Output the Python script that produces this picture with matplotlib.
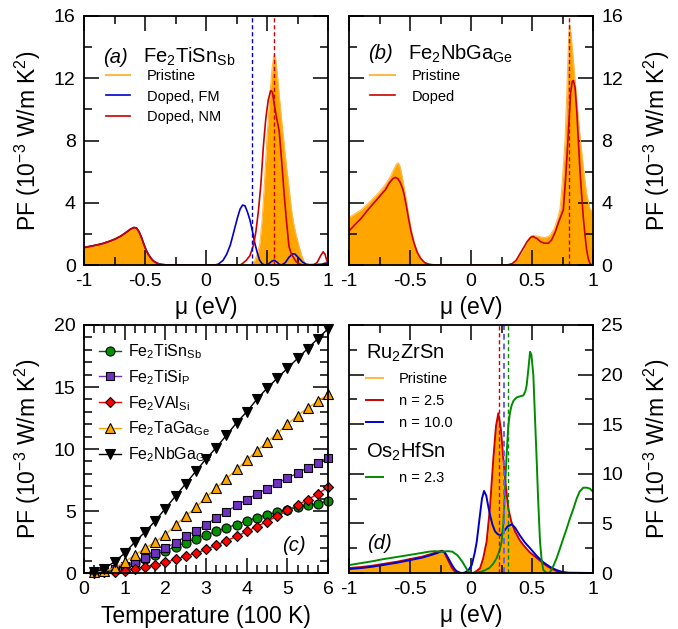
import matplotlib
matplotlib.use("Agg")
import matplotlib.pyplot as plt
from matplotlib.lines import Line2D
from matplotlib.ticker import MultipleLocator, FuncFormatter

plt.rcParams.update({
    "font.family": ["Liberation Sans", "DejaVu Sans"],
    "mathtext.fontset": "custom",
    "mathtext.rm": "Liberation Sans",
    "mathtext.it": "Liberation Sans:italic",
    "mathtext.bf": "Liberation Sans:bold",
    "axes.linewidth": 1.3,
})

ORANGE = "#FFA500"
ORANGE_LINE = "#FFB84D"
RED = "#CC0000"
BLUE = "#0000CC"
GREEN = "#008C00"

# ---- (a) Fe2TiSn_Sb : PF vs chemical potential -----------------------------
a_lobe_mu = [-1.0, -0.95, -0.9, -0.85, -0.8, -0.75, -0.7, -0.65, -0.62, -0.59, -0.57,
             -0.55, -0.53, -0.51, -0.49, -0.47, -0.45, -0.43, -0.40, -0.37, -0.33, -0.30]
a_lobe_pf = [1.12, 1.2, 1.28, 1.37, 1.5, 1.65, 1.85, 2.12, 2.3, 2.41, 2.38,
             2.15, 1.8, 1.35, 0.95, 0.65, 0.42, 0.25, 0.11, 0.04, 0.01, 0.0]

a_pristine_mu = a_lobe_mu + [0.35, 0.38, 0.40, 0.42, 0.44, 0.46, 0.48, 0.50, 0.52, 0.54, 0.555,
                             0.57, 0.585, 0.60, 0.62, 0.64, 0.66, 0.68, 0.70, 0.72, 0.74,
                             0.76, 0.78, 0.80, 0.82, 0.85, 0.92, 0.95, 0.98, 1.0]
a_pristine_pf = a_lobe_pf + [0.0, 0.05, 0.3, 0.7, 1.3, 2.9, 5.4, 8.2, 10.5, 12.5, 13.45,
                             13.3, 12.2, 10.9, 9.3, 7.8, 6.3, 5.0, 3.6, 2.6, 1.9,
                             1.3, 0.7, 0.3, 0.05, 0.0, 0.0, 0.05, 0.2, 0.2]

a_nm_mu = a_lobe_mu + [0.28, 0.30, 0.33, 0.36, 0.39, 0.41, 0.43, 0.45, 0.47, 0.49, 0.51, 0.53,
                       0.545, 0.56, 0.58, 0.60, 0.62, 0.64, 0.66, 0.68, 0.70, 0.74, 0.77,
                       0.80, 0.88, 0.91, 0.94, 0.96, 0.975, 0.99, 1.0]
a_nm_pf = a_lobe_pf + [0.0, 0.1, 0.3, 0.6, 1.3, 2.2, 3.5, 5.2, 7.6, 9.4, 10.6, 11.2,
                       11.1, 10.3, 9.4, 8.6, 6.7, 4.6, 2.8, 1.2, 0.7, 0.2, 0.05,
                       0.0, 0.0, 0.15, 0.6, 0.85, 0.7, 0.3, 0.15]

a_fm_mu = a_lobe_mu + [0.07, 0.10, 0.14, 0.17, 0.20, 0.23, 0.26, 0.28, 0.30, 0.32, 0.34, 0.36,
                       0.38, 0.40, 0.42, 0.44, 0.46, 0.48, 0.51, 0.54, 0.56, 0.58, 0.60,
                       0.62, 0.65, 0.68, 0.71, 0.73, 0.76, 0.79, 0.82, 0.85, 0.90, 0.95, 1.0]
a_fm_pf = a_lobe_pf + [0.0, 0.05, 0.3, 0.7, 1.3, 2.2, 3.1, 3.6, 3.85, 3.8, 3.4, 2.9,
                       2.2, 1.4, 0.8, 0.3, 0.08, 0.0, 0.05, 0.25, 0.3, 0.2, 0.05,
                       0.0, 0.15, 0.5, 0.72, 0.7, 0.45, 0.2, 0.05, 0.02, 0.03, 0.05, 0.15]

a_fermi_fm = 0.375
a_fermi_nm = 0.557

# ---- (b) Fe2NbGa_Ge --------------------------------------------------------
b_pristine_mu = [-1.0, -0.95, -0.9, -0.85, -0.8, -0.75, -0.70, -0.66, -0.63, -0.61, -0.595,
                 -0.58, -0.56, -0.535, -0.515, -0.495, -0.475, -0.454, -0.435, -0.413,
                 -0.39, -0.36, -0.33, -0.30, 0.30, 0.33, 0.36, 0.40, 0.44, 0.47, 0.50,
                 0.55, 0.60, 0.64, 0.68, 0.71, 0.73, 0.75, 0.77, 0.785, 0.80, 0.808,
                 0.82, 0.85, 0.87, 0.893, 0.92, 0.947, 0.975, 1.0]
b_pristine_pf = [3.05, 3.3, 3.55, 3.9, 4.3, 4.7, 5.2, 5.7, 6.2, 6.5, 6.56,
                 6.3, 5.5, 4.4, 3.4, 2.47, 1.75, 1.18, 0.75, 0.43,
                 0.2, 0.06, 0.01, 0.0, 0.0, 0.05, 0.2, 0.6, 1.15, 1.65, 1.9,
                 1.85, 1.75, 1.85, 2.3, 3.0, 3.6, 5.5, 7.9, 11.0, 14.5, 15.5,
                 14.8, 12.15, 10.3, 8.3, 6.3, 4.6, 3.6, 3.4]

b_doped_mu = [-1.0, -0.95, -0.9, -0.85, -0.8, -0.75, -0.70, -0.67, -0.64, -0.62, -0.60,
              -0.58, -0.56, -0.55, -0.53, -0.51, -0.49, -0.467, -0.44, -0.413, -0.38,
              -0.344, -0.30, 0.30, 0.34, 0.37, 0.40, 0.43, 0.46, 0.49, 0.51, 0.54,
              0.57, 0.60, 0.634, 0.66, 0.69, 0.72, 0.757, 0.775, 0.79, 0.805, 0.817,
              0.83, 0.84, 0.853, 0.866, 0.88, 0.893, 0.907, 0.92, 0.935, 0.947,
              0.96, 0.975, 0.99, 1.0]
b_doped_pf = [2.19, 2.6, 3.0, 3.5, 3.95, 4.4, 4.85, 5.27, 5.55, 5.63, 5.55,
              5.3, 4.9, 4.6, 3.8, 2.9, 2.1, 1.4, 0.8, 0.43, 0.15,
              0.05, 0.0, 0.0, 0.1, 0.3, 0.7, 1.1, 1.5, 1.78, 1.83, 1.7,
              1.5, 1.4, 1.4, 1.6, 2.1, 2.8, 3.55, 5.5, 7.4, 9.5, 11.1,
              11.8, 11.85, 11.4, 10.0, 8.0, 6.1, 4.5, 3.1, 1.9, 1.0,
              0.45, 0.1, 0.0, 0.0]

b_fermi = 0.806

# ---- (c) PF vs temperature at the optimal doping ---------------------------
temperature = [0.25, 0.5, 0.75, 1.0, 1.25, 1.5, 1.75, 2.0, 2.25, 2.5, 2.75, 3.0,
               3.25, 3.5, 3.75, 4.0, 4.25, 4.5, 4.75, 5.0, 5.25, 5.5, 5.75, 6.0]
pf_tisn = [0.05, 0.15, 0.3, 0.55, 0.8, 1.1, 1.45, 1.8, 2.1, 2.45, 2.75, 3.05,
           3.35, 3.65, 3.9, 4.2, 4.45, 4.7, 4.9, 5.1, 5.3, 5.45, 5.6, 5.8]
pf_tisi = [0.05, 0.2, 0.35, 0.6, 0.85, 1.2, 1.6, 2.0, 2.45, 2.95, 3.4, 3.9,
           4.45, 4.95, 5.45, 5.9, 6.4, 6.8, 7.25, 7.65, 8.05, 8.5, 8.9, 9.3]
pf_val = [0.0, 0.05, 0.1, 0.2, 0.35, 0.5, 0.65, 0.85, 1.1, 1.35, 1.6, 1.9,
          2.25, 2.6, 2.95, 3.35, 3.75, 4.15, 4.6, 5.05, 5.5, 5.9, 6.4, 6.9]
pf_taga = [0.05, 0.15, 0.4, 0.9, 1.45, 2.0, 2.5, 3.1, 3.85, 4.6, 5.3, 6.1,
           6.85, 7.6, 8.35, 9.1, 9.85, 10.55, 11.25, 12.0, 12.7, 13.3, 13.85, 14.4]
pf_nbga = [0.1, 0.35, 0.9, 1.6, 2.5, 3.3, 4.2, 5.2, 6.2, 7.2, 8.2, 9.2,
           10.1, 11.1, 12.1, 13.0, 14.0, 14.9, 15.7, 16.5, 17.3, 18.1, 18.9, 19.7]
c_labels = [r"Fe$_2$TiSn$_{\mathrm{Sb}}$", r"Fe$_2$TiSi$_{\mathrm{P}}$",
            r"Fe$_2$VAl$_{\mathrm{Si}}$", r"Fe$_2$TaGa$_{\mathrm{Ge}}$",
            r"Fe$_2$NbGa$_{\mathrm{Ge}}$"]

# ---- (d) Ru2ZrSn and Os2HfSn ----------------------------------------------
d_pristine_mu = [-1.0, -0.9, -0.8, -0.7, -0.6, -0.5, -0.4, -0.33, -0.28, -0.24, -0.22,
                 -0.20, -0.18, -0.16, -0.14, -0.12, -0.10, 0.0, 0.04, 0.08, 0.11, 0.14,
                 0.16, 0.18, 0.20, 0.22, 0.235, 0.25, 0.27, 0.29, 0.31, 0.34, 0.38,
                 0.43, 0.48, 0.54, 0.60, 0.65, 0.70, 0.75, 0.80, 1.0]
d_pristine_pf = [0.45, 0.55, 0.7, 0.9, 1.1, 1.35, 1.6, 1.85, 2.05, 2.2, 2.1,
                 1.6, 1.1, 0.6, 0.25, 0.05, 0.0, 0.0, 0.1, 0.6, 1.8, 4.0,
                 6.8, 10.5, 14.0, 15.8, 15.3, 12.5, 9.5, 7.0, 5.5, 4.5, 3.6,
                 2.7, 2.0, 1.4, 0.9, 0.5, 0.2, 0.05, 0.0, 0.0]

d_n25_mu = [-1.0, -0.9, -0.8, -0.7, -0.6, -0.5, -0.4, -0.33, -0.28, -0.24, -0.22,
            -0.20, -0.18, -0.16, -0.14, -0.12, -0.10, 0.02, 0.04, 0.074, 0.10, 0.128,
            0.155, 0.183, 0.205, 0.224, 0.245, 0.265, 0.285, 0.306, 0.33, 0.36, 0.40,
            0.43, 0.48, 0.54, 0.60, 0.65, 0.70, 0.73, 0.80, 1.0]
d_n25_pf = [0.5, 0.6, 0.75, 0.95, 1.15, 1.4, 1.65, 1.9, 2.1, 2.25, 2.1,
            1.6, 1.1, 0.6, 0.25, 0.05, 0.0, 0.0, 0.15, 0.47, 1.48, 3.16,
            6.5, 11.5, 14.8, 16.1, 14.5, 11.5, 8.8, 6.5, 5.2, 4.2, 3.3,
            2.8, 2.1, 1.5, 0.9, 0.5, 0.2, 0.06, 0.0, 0.0]

d_n10_mu = [-1.0, -0.9, -0.8, -0.7, -0.6, -0.5, -0.4, -0.33, -0.28, -0.24, -0.22,
            -0.20, -0.18, -0.16, -0.14, -0.12, -0.09, -0.07, -0.05, -0.02, 0.006,
            0.03, 0.047, 0.07, 0.09, 0.107, 0.125, 0.14, 0.156, 0.175, 0.197, 0.22,
            0.243, 0.27, 0.30, 0.333, 0.36, 0.40, 0.44, 0.484, 0.54, 0.593, 0.65,
            0.70, 0.75, 0.80, 1.0]
d_n10_pf = [0.4, 0.5, 0.65, 0.85, 1.05, 1.3, 1.55, 1.8, 2.0, 2.2, 2.15,
            1.8, 1.35, 0.9, 0.5, 0.2, 0.03, 0.0, 0.05, 0.3, 0.8,
            2.0, 3.15, 5.5, 7.5, 8.27, 7.8, 6.8, 5.85, 4.9, 4.2, 3.9,
            3.8, 4.2, 4.7, 4.9, 4.6, 3.8, 3.1, 2.5, 1.7, 1.08, 0.6,
            0.3, 0.1, 0.03, 0.0]

d_os_mu = [-1.0, -0.9, -0.8, -0.727, -0.6, -0.454, -0.344, -0.30, -0.235, -0.19, -0.153,
           -0.13, -0.112, -0.09, -0.071, -0.05, -0.03, 0.0, 0.05, 0.10, 0.15, 0.18,
           0.21, 0.235, 0.251, 0.265, 0.278, 0.29, 0.306, 0.32, 0.333, 0.35, 0.374,
           0.40, 0.429, 0.445, 0.456, 0.47, 0.484, 0.495, 0.511, 0.525, 0.538, 0.55,
           0.566, 0.58, 0.593, 0.62, 0.647, 0.675, 0.702, 0.73, 0.757, 0.785, 0.811,
           0.84, 0.866, 0.89, 0.92, 0.95, 0.975, 1.0]
d_os_pf = [0.8, 1.0, 1.2, 1.38, 1.63, 1.92, 2.15, 2.2, 2.15, 2.2, 2.15,
           1.95, 1.8, 1.45, 1.14, 0.7, 0.3, 0.0, 0.05, 0.2, 0.5, 0.9,
           1.5, 2.3, 3.15, 5.0, 8.2, 11.5, 14.9, 16.2, 16.9, 17.4, 17.7,
           17.8, 17.9, 18.3, 18.9, 20.5, 22.3, 22.0, 19.96, 15.5, 11.5, 7.5,
           3.1, 1.2, 0.3, 0.0, 0.05, 0.7, 1.5, 2.5, 3.5, 4.5, 5.5,
           6.5, 7.5, 8.2, 8.6, 8.6, 8.5, 8.2]

d_fermi_n25 = 0.232
d_fermi_n10 = 0.27
d_fermi_os = 0.306

YLABEL = r"PF (10$^{-3}$ W/m K$^{2}$)"
MU_LABEL = "\u03bc (eV)"
TICK_FS = 14
LABEL_FS = 16.5


def style_axes(ax, xmaj, xmin, ymaj, ymin, right=False):
    ax.xaxis.set_major_locator(MultipleLocator(xmaj))
    ax.xaxis.set_minor_locator(MultipleLocator(xmin))
    ax.yaxis.set_major_locator(MultipleLocator(ymaj))
    ax.yaxis.set_minor_locator(MultipleLocator(ymin))
    ax.xaxis.set_major_formatter(FuncFormatter(lambda v, _: f"{v:g}"))
    ax.yaxis.set_major_formatter(FuncFormatter(lambda v, _: f"{v:g}"))
    ax.tick_params(which="both", direction="in", top=True, right=True,
                   labelsize=TICK_FS, width=1.1, pad=6)
    ax.tick_params(which="major", length=11)
    ax.tick_params(which="minor", length=5.5)
    ax.set_ylabel(YLABEL, fontsize=LABEL_FS)
    if right:
        ax.tick_params(labelleft=False, labelright=True)
        ax.yaxis.set_label_position("right")
        ax.yaxis.set_label_coords(1.20, 0.5)
    else:
        ax.yaxis.set_label_coords(-0.168, 0.5)


def mu_panel(ax):
    ax.set_xlim(-1, 1)
    ax.set_xlabel(MU_LABEL, fontsize=LABEL_FS)
    ax.xaxis.set_label_coords(0.5, -0.125)


W, H = 678, 629
fig = plt.figure(figsize=(W / 100, H / 100), dpi=100)


def px_axes(left, top, right, bottom):
    return fig.add_axes([left / W, 1 - bottom / H, (right - left) / W, (bottom - top) / H])


ax_a = px_axes(84, 16, 328, 265)
ax_b = px_axes(349, 16, 593, 265)
ax_c = px_axes(84, 325, 328, 573)
ax_d = px_axes(349, 325, 593, 573)

# (a)
ax_a.fill_between(a_pristine_mu, a_pristine_pf, color=ORANGE, lw=0)
ax_a.plot(a_pristine_mu, a_pristine_pf, color=ORANGE_LINE, lw=0.8)
ax_a.plot(a_fm_mu, a_fm_pf, color=BLUE, lw=1.2)
ax_a.plot(a_nm_mu, a_nm_pf, color=RED, lw=1.2)
ax_a.axvline(a_fermi_fm, color=BLUE, lw=1.0, ls=(0, (3, 2)))
ax_a.axvline(a_fermi_nm, color=RED, lw=1.0, ls=(0, (3, 2)))
ax_a.set_ylim(0, 16)
mu_panel(ax_a)
style_axes(ax_a, 0.5, 0.25, 4, 2)
ax_a.text(0.078, 0.812, "(a)", transform=ax_a.transAxes, fontsize=14.5,
          style="italic", va="baseline")
ax_a.text(0.242, 0.812, r"Fe$_2$TiSn$_{\mathrm{Sb}}$", transform=ax_a.transAxes,
          fontsize=14.5, va="baseline")
ax_a.legend(handles=[Line2D([], [], color=ORANGE_LINE, lw=1.5),
                     Line2D([], [], color=BLUE, lw=1.2),
                     Line2D([], [], color=RED, lw=1.2)],
            labels=["Pristine", "Doped, FM", "Doped, NM"],
            loc="upper left", bbox_to_anchor=(0.09, 0.787), frameon=False,
            fontsize=10.5, borderpad=0, borderaxespad=0, handlelength=1.65,
            handletextpad=1.15, labelspacing=0.45)

# (b)
ax_b.fill_between(b_pristine_mu, b_pristine_pf, color=ORANGE, lw=0)
ax_b.plot(b_pristine_mu, b_pristine_pf, color=ORANGE_LINE, lw=0.8)
ax_b.plot(b_doped_mu, b_doped_pf, color=RED, lw=1.2)
ax_b.axvline(b_fermi, color=RED, lw=1.0, ls=(0, (3, 2)))
ax_b.set_ylim(0, 16)
mu_panel(ax_b)
style_axes(ax_b, 0.5, 0.25, 4, 2, right=True)
ax_b.text(0.078, 0.826, "(b)", transform=ax_b.transAxes, fontsize=14.5,
          style="italic", va="baseline")
ax_b.text(0.242, 0.826, r"Fe$_2$NbGa$_{\mathrm{Ge}}$", transform=ax_b.transAxes,
          fontsize=14.5, va="baseline")
ax_b.legend(handles=[Line2D([], [], color=ORANGE_LINE, lw=1.5),
                     Line2D([], [], color=RED, lw=1.2)],
            labels=["Pristine", "Doped"],
            loc="upper left", bbox_to_anchor=(0.086, 0.787), frameon=False,
            fontsize=10.5, borderpad=0, borderaxespad=0, handlelength=1.7,
            handletextpad=1.15, labelspacing=0.45)

# (c)
series_c = [
    (pf_tisn, "o", "#009000", "#006400", 6.5),
    (pf_tisi, "s", "#7030C0", "#7030C0", 5.5),
    (pf_val, "D", "#FF0000", "#FF0000", 5.0),
    (pf_taga, "^", ORANGE, ORANGE, 7.0),
    (pf_nbga, "v", "#000000", "#000000", 7.0),
]
for (vals, marker, face, line_col, ms), label in zip(series_c, c_labels):
    ax_c.plot(temperature, vals, color=line_col, lw=1.0, marker=marker, ms=ms,
              mfc=face, mec="black", mew=0.8, label=label, clip_on=False)
ax_c.set_xlim(0, 6)
ax_c.set_ylim(0, 20)
ax_c.set_xlabel("Temperature (100 K)", fontsize=LABEL_FS)
ax_c.xaxis.set_label_coords(0.5, -0.13)
style_axes(ax_c, 1, 0.25, 5, 1)
ax_c.text(0.811, 0.09, "(c)", transform=ax_c.transAxes, fontsize=14.5,
          style="italic", va="baseline")
ax_c.legend(loc="upper left", bbox_to_anchor=(0.061, 0.931), frameon=False,
            fontsize=11.5, borderpad=0, borderaxespad=0, handlelength=1.4,
            handletextpad=0.4, labelspacing=0.45)

# (d)
ax_d.fill_between(d_pristine_mu, d_pristine_pf, color=ORANGE, lw=0)
ax_d.plot(d_pristine_mu, d_pristine_pf, color=ORANGE_LINE, lw=0.8)
ax_d.plot(d_n25_mu, d_n25_pf, color=RED, lw=1.4)
ax_d.plot(d_n10_mu, d_n10_pf, color=BLUE, lw=1.4)
ax_d.plot(d_os_mu, d_os_pf, color=GREEN, lw=1.4)
ax_d.axvline(d_fermi_n25, color=RED, lw=1.0, ls=(0, (3, 2)))
ax_d.axvline(d_fermi_n10, color="#6060FF", lw=1.4, ls=(0, (3, 2)))
ax_d.axvline(d_fermi_os, color=GREEN, lw=1.0, ls=(0, (3, 2)))
ax_d.set_ylim(0, 25)
mu_panel(ax_d)
style_axes(ax_d, 0.5, 0.25, 5, 2.5, right=True)
ax_d.text(0.074, 0.096, "(d)", transform=ax_d.transAxes, fontsize=14.5,
          style="italic", va="baseline")
leg_ru = ax_d.legend(handles=[Line2D([], [], color=ORANGE_LINE, lw=1.5),
                              Line2D([], [], color=RED, lw=1.4),
                              Line2D([], [], color=BLUE, lw=1.4)],
                     labels=["Pristine", "n = 2.5", "n = 10.0"],
                     title=r"Ru$_2$ZrSn", title_fontsize=14.5, alignment="left",
                     loc="upper left", bbox_to_anchor=(0.07, 0.93), frameon=False,
                     fontsize=10.5, borderpad=0, borderaxespad=0, handlelength=1.15,
                     handletextpad=1.1, labelspacing=0.55)
ax_d.add_artist(leg_ru)
ax_d.legend(handles=[Line2D([], [], color=GREEN, lw=1.4)], labels=["n = 2.3"],
            title=r"Os$_2$HfSn", title_fontsize=14.5, alignment="left",
            loc="upper left", bbox_to_anchor=(0.07, 0.535), frameon=False,
            fontsize=10.5, borderpad=0, borderaxespad=0, handlelength=1.15,
            handletextpad=1.1, labelspacing=0.55)

fig.savefig("out.png", dpi=100)
